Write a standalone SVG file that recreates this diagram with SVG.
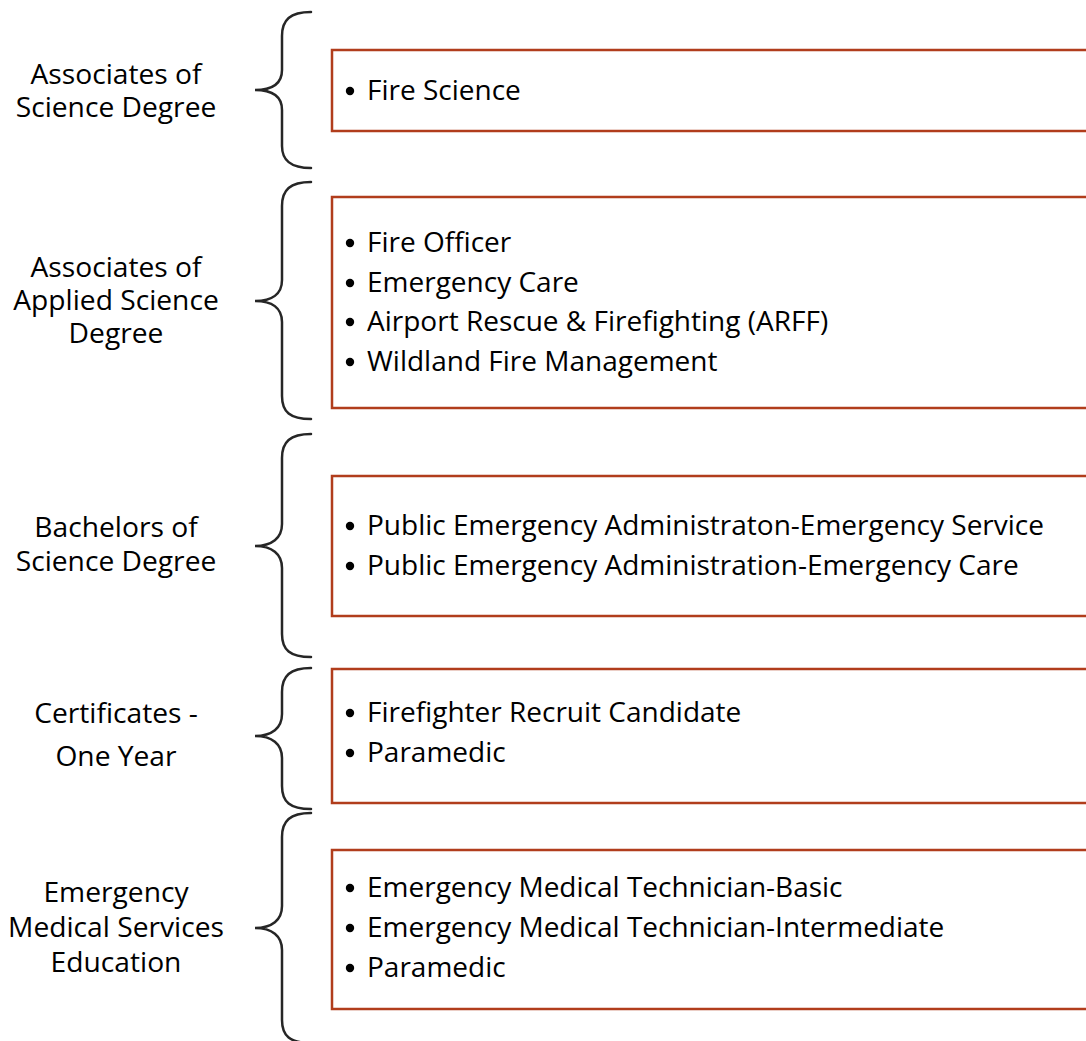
<svg xmlns="http://www.w3.org/2000/svg" width="1086" height="1041" viewBox="0 0 1086 1041">
  <style>
    .lbl { font-family: "Open Sans", "Liberation Sans", sans-serif; font-size: 28.2px; fill: #000; text-anchor: middle; }
    .item { font-family: "Open Sans", "Liberation Sans", sans-serif; font-size: 28px; fill: #000; }
    .dot { fill: #000; }
    .box { fill: #fff; stroke: #b13d1c; stroke-width: 2.5; }
    .brace { fill: none; stroke: #262626; stroke-width: 2.5; stroke-linecap: round; }
  </style>
  <rect width="1086" height="1041" fill="#fff"/>

  <!-- braces linking each category to its program box -->
  <g id="connectors">
    <path class="brace" d="M311,12 C290,12 282,20 282,36 L282,70 C282,84 272,90 255,90 C272,90 282,96 282,110 L282,146 C282,160 290,168 311,168"/>
    <path class="brace" d="M311,182 C290,182 282,190 282,206 L282,280 C282,294 272,301 255,301 C272,301 282,308 282,322 L282,396 C282,412 290,419 311,419"/>
    <path class="brace" d="M311,434 C290,434 282,442 282,458 L282,524 C282,538 272,546 255,546 C272,546 282,554 282,568 L282,634 C282,650 290,657 311,657"/>
    <path class="brace" d="M311,668 C290,668 282,676 282,692 L282,714 C282,728 272,736 255,736 C272,736 282,744 282,758 L282,786 C282,802 290,809 311,809"/>
    <path class="brace" d="M311,813 C290,813 282,821 282,837 L282,906 C282,920 272,928 255,928 C272,928 282,936 282,950 L282,1020 C282,1036 290,1043 311,1043"/>
  </g>

  <g id="associates-science">
    <text class="lbl" x="116" y="84"><tspan x="116">Associates of</tspan><tspan x="116" dy="33">Science Degree</tspan></text>
    <rect class="box" x="332" y="50" width="780" height="81"/>
    <circle class="dot" cx="350" cy="91" r="4.2"/>
    <text class="item" x="367" y="100">Fire Science</text>
  </g>

  <g id="associates-applied-science">
    <text class="lbl" x="116" y="277"><tspan x="116">Associates of</tspan><tspan x="116" dy="33">Applied Science</tspan><tspan x="116" dy="33">Degree</tspan></text>
    <rect class="box" x="332" y="197" width="780" height="211"/>
    <circle class="dot" cx="350" cy="243" r="4.2"/>
    <circle class="dot" cx="350" cy="283" r="4.2"/>
    <circle class="dot" cx="350" cy="322" r="4.2"/>
    <circle class="dot" cx="350" cy="362" r="4.2"/>
    <text class="item" x="367" y="252"><tspan x="367">Fire Officer</tspan><tspan x="367" dy="40">Emergency Care</tspan><tspan x="367" dy="39">Airport Rescue &amp; Firefighting (ARFF)</tspan><tspan x="367" dy="40">Wildland Fire Management</tspan></text>
  </g>

  <g id="bachelors-science">
    <text class="lbl" x="116" y="537"><tspan x="116">Bachelors of</tspan><tspan x="116" dy="34">Science Degree</tspan></text>
    <rect class="box" x="332" y="476" width="780" height="140"/>
    <circle class="dot" cx="350" cy="526" r="4.2"/>
    <circle class="dot" cx="350" cy="566" r="4.2"/>
    <text class="item" x="367" y="535"><tspan x="367">Public Emergency Administraton-Emergency Service</tspan><tspan x="367" dy="40">Public Emergency Administration-Emergency Care</tspan></text>
  </g>

  <g id="certificates">
    <text class="lbl" x="116" y="723"><tspan x="116">Certificates -</tspan><tspan x="116" dy="43">One Year</tspan></text>
    <rect class="box" x="332" y="669" width="780" height="134"/>
    <circle class="dot" cx="350" cy="713" r="4.2"/>
    <circle class="dot" cx="350" cy="753" r="4.2"/>
    <text class="item" x="367" y="722"><tspan x="367">Firefighter Recruit Candidate</tspan><tspan x="367" dy="40">Paramedic</tspan></text>
  </g>

  <g id="ems-education">
    <text class="lbl" x="116" y="902"><tspan x="116">Emergency</tspan><tspan x="116" dy="35">Medical Services</tspan><tspan x="116" dy="35">Education</tspan></text>
    <rect class="box" x="332" y="850" width="780" height="159"/>
    <circle class="dot" cx="350" cy="888" r="4.2"/>
    <circle class="dot" cx="350" cy="928" r="4.2"/>
    <circle class="dot" cx="350" cy="968" r="4.2"/>
    <text class="item" x="367" y="897"><tspan x="367">Emergency Medical Technician-Basic</tspan><tspan x="367" dy="40">Emergency Medical Technician-Intermediate</tspan><tspan x="367" dy="40">Paramedic</tspan></text>
  </g>
</svg>
